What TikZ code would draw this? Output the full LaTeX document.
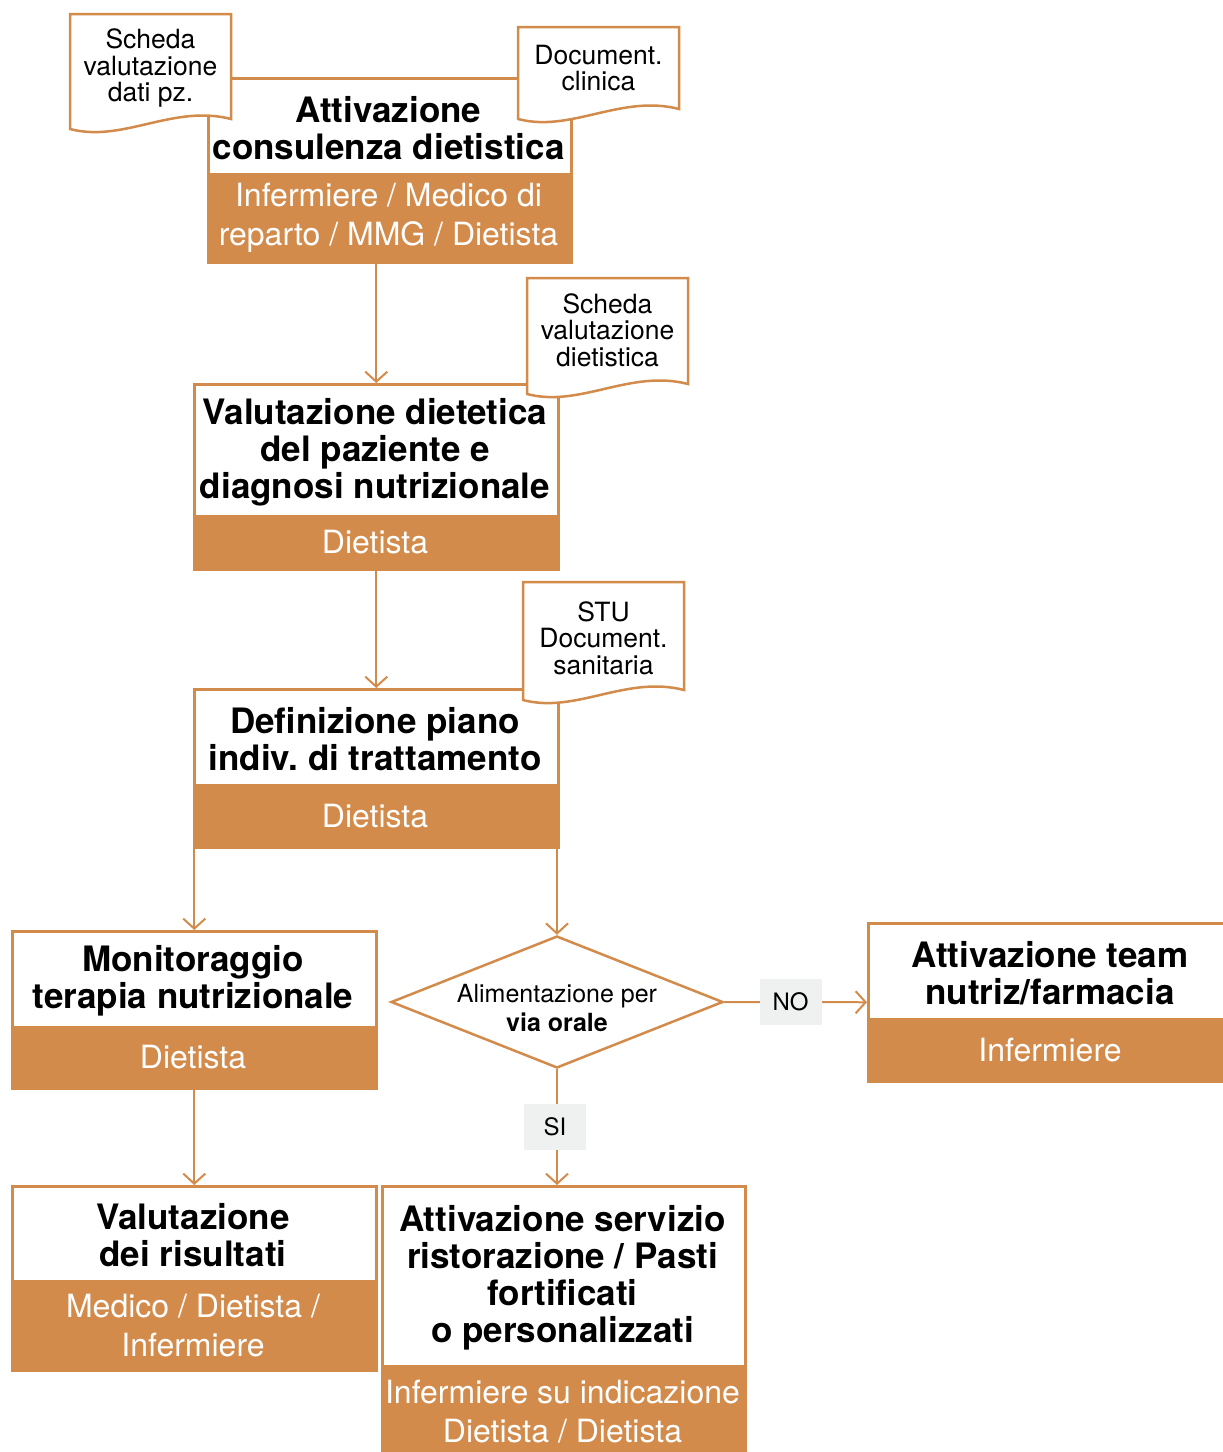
\documentclass[tikz,border=0pt]{standalone}
\usepackage{fontspec}
\setmainfont{TeX Gyre Heros}
\usetikzlibrary{arrows.meta,shapes.geometric}
\definecolor{orc}{HTML}{D38B4B}
\definecolor{lblbg}{HTML}{EFF0F0}
\frenchspacing
\tikzset{
  conn/.style={draw=orc, line width=2pt, -{Straight Barb[length=10pt,width=22pt]}},
  boxframe/.style={draw=orc, line width=2.5pt, fill=white, inner sep=0pt, anchor=north west},
  rolebox/.style={draw=orc, line width=2.5pt, fill=orc, inner sep=0pt, anchor=north west},
  titletext/.style={font=\fontsize{35}{37}\selectfont\bfseries, align=center, inner sep=0pt},
  roletext/.style={font=\fontsize{32}{39}\selectfont, text=white, align=center, inner sep=0pt},
  doctext/.style={font=\fontsize{26.5}{26.5}\selectfont, align=center, inner sep=0pt},
  docshape/.style={draw=orc, line width=2.5pt, fill=white},
  lbl/.style={fill=lblbg, minimum width=62pt, minimum height=46pt, font=\fontsize{24}{24}\selectfont, inner sep=0pt},
  diatext/.style={font=\fontsize{25}{29}\selectfont, align=center, inner sep=0pt},
}
% name, x1, y1, x2, ysplit, y2, title, role
\newcommand\flowbox[8]{%
  \node[boxframe, minimum width={(#4-#2)*1pt}, minimum height={(#6-#3)*1pt}] (#1) at (#2,#3) {};
  \node[rolebox, minimum width={(#4-#2)*1pt}, minimum height={(#6-#5)*1pt}] (#1r) at (#2,#5) {};
  \node[titletext] (#1t) at ({(#2+#4)/2},{(#3+#5)/2+3}) {#7};
  \node[roletext] (#1l) at ({(#2+#4)/2},{(#5+#6)/2+1}) {#8};
}
% name, x1, ytop, x2, yleftbottom, text, text y
\newcommand\docnode[7]{%
  \draw[docshape] (#2,#3) -- (#4,#3) -- (#4,{#5-10}) .. controls ({#4-58},{#5-25}) and ({#2+53},{#5+14}) .. (#2,#5) -- cycle;
  \node[doctext] (#1) at ({(#2+#4)/2},#7) {#6};
}
\begin{document}
\begin{tikzpicture}[x=1pt,y=-1pt]
\useasboundingbox (0,0) rectangle (1223,1452);

\flowbox{b1}{207}{77}{570}{173}{261}{Attivazione\\consulenza dietistica}{Infermiere / Medico di\\reparto / MMG / Dietista}
\flowbox{b2}{193}{383}{557}{515}{568}{Valutazione dietetica\\del paziente e\\diagnosi nutrizionale}{Dietista}
\flowbox{b3}{193}{688}{557}{784}{846}{Definizione piano\\indiv. di trattamento}{Dietista}
\flowbox{b4}{11}{930}{375}{1026}{1087}{Monitoraggio\\terapia nutrizionale}{Dietista}
\flowbox{b5}{867}{922}{1233}{1018}{1080}{Attivazione team\\nutriz/farmacia}{Infermiere}
\flowbox{b6}{11}{1185}{375}{1280}{1369}{Valutazione\\dei risultati}{Medico / Dietista /\\Infermiere}
\flowbox{b7}{381}{1185}{744}{1365}{1456}{Attivazione servizio\\ristorazione / Pasti\\fortificati\\o personalizzati}{Infermiere su indicazione\\Dietista / Dietista}

\node[diamond, draw=orc, line width=2.5pt, fill=white, minimum width=332pt, minimum height=132pt, inner sep=0pt, aspect=2.5] (dia) at (557,1002) {};
\node[diatext] (diat) at (557,1008) {Alimentazione per\\\textbf{via orale}};

\docnode{d1}{70}{14}{231}{129}{Scheda\\valutazione\\dati pz.}{68}
\docnode{d2}{518}{27}{679}{119}{Document.\\clinica}{68}
\docnode{d3}{527}{278}{688}{394}{Scheda\\valutazione\\dietistica}{330}
\docnode{d4}{523}{582}{684}{700}{STU\\Document.\\sanitaria}{638}

\draw[conn] (b1.south -| b2.north) -- (b2.north);
\draw[conn] (b2.south) -- (b3.north);
\draw[conn] (b4.north |- b3.south) -- (b4.north);
\draw[conn] (dia.north |- b3.south) -- (dia.north);
\draw[conn] (b4.south) -- (b6.north);
\draw[conn] (dia.east) -- node[lbl, pos=0.465] (no) {NO} (b5.west);
\draw[conn] (dia.south) -- node[lbl, pos=0.5, xshift=-2pt] (si) {SI} (dia.south |- b7.north);
\end{tikzpicture}
\end{document}
